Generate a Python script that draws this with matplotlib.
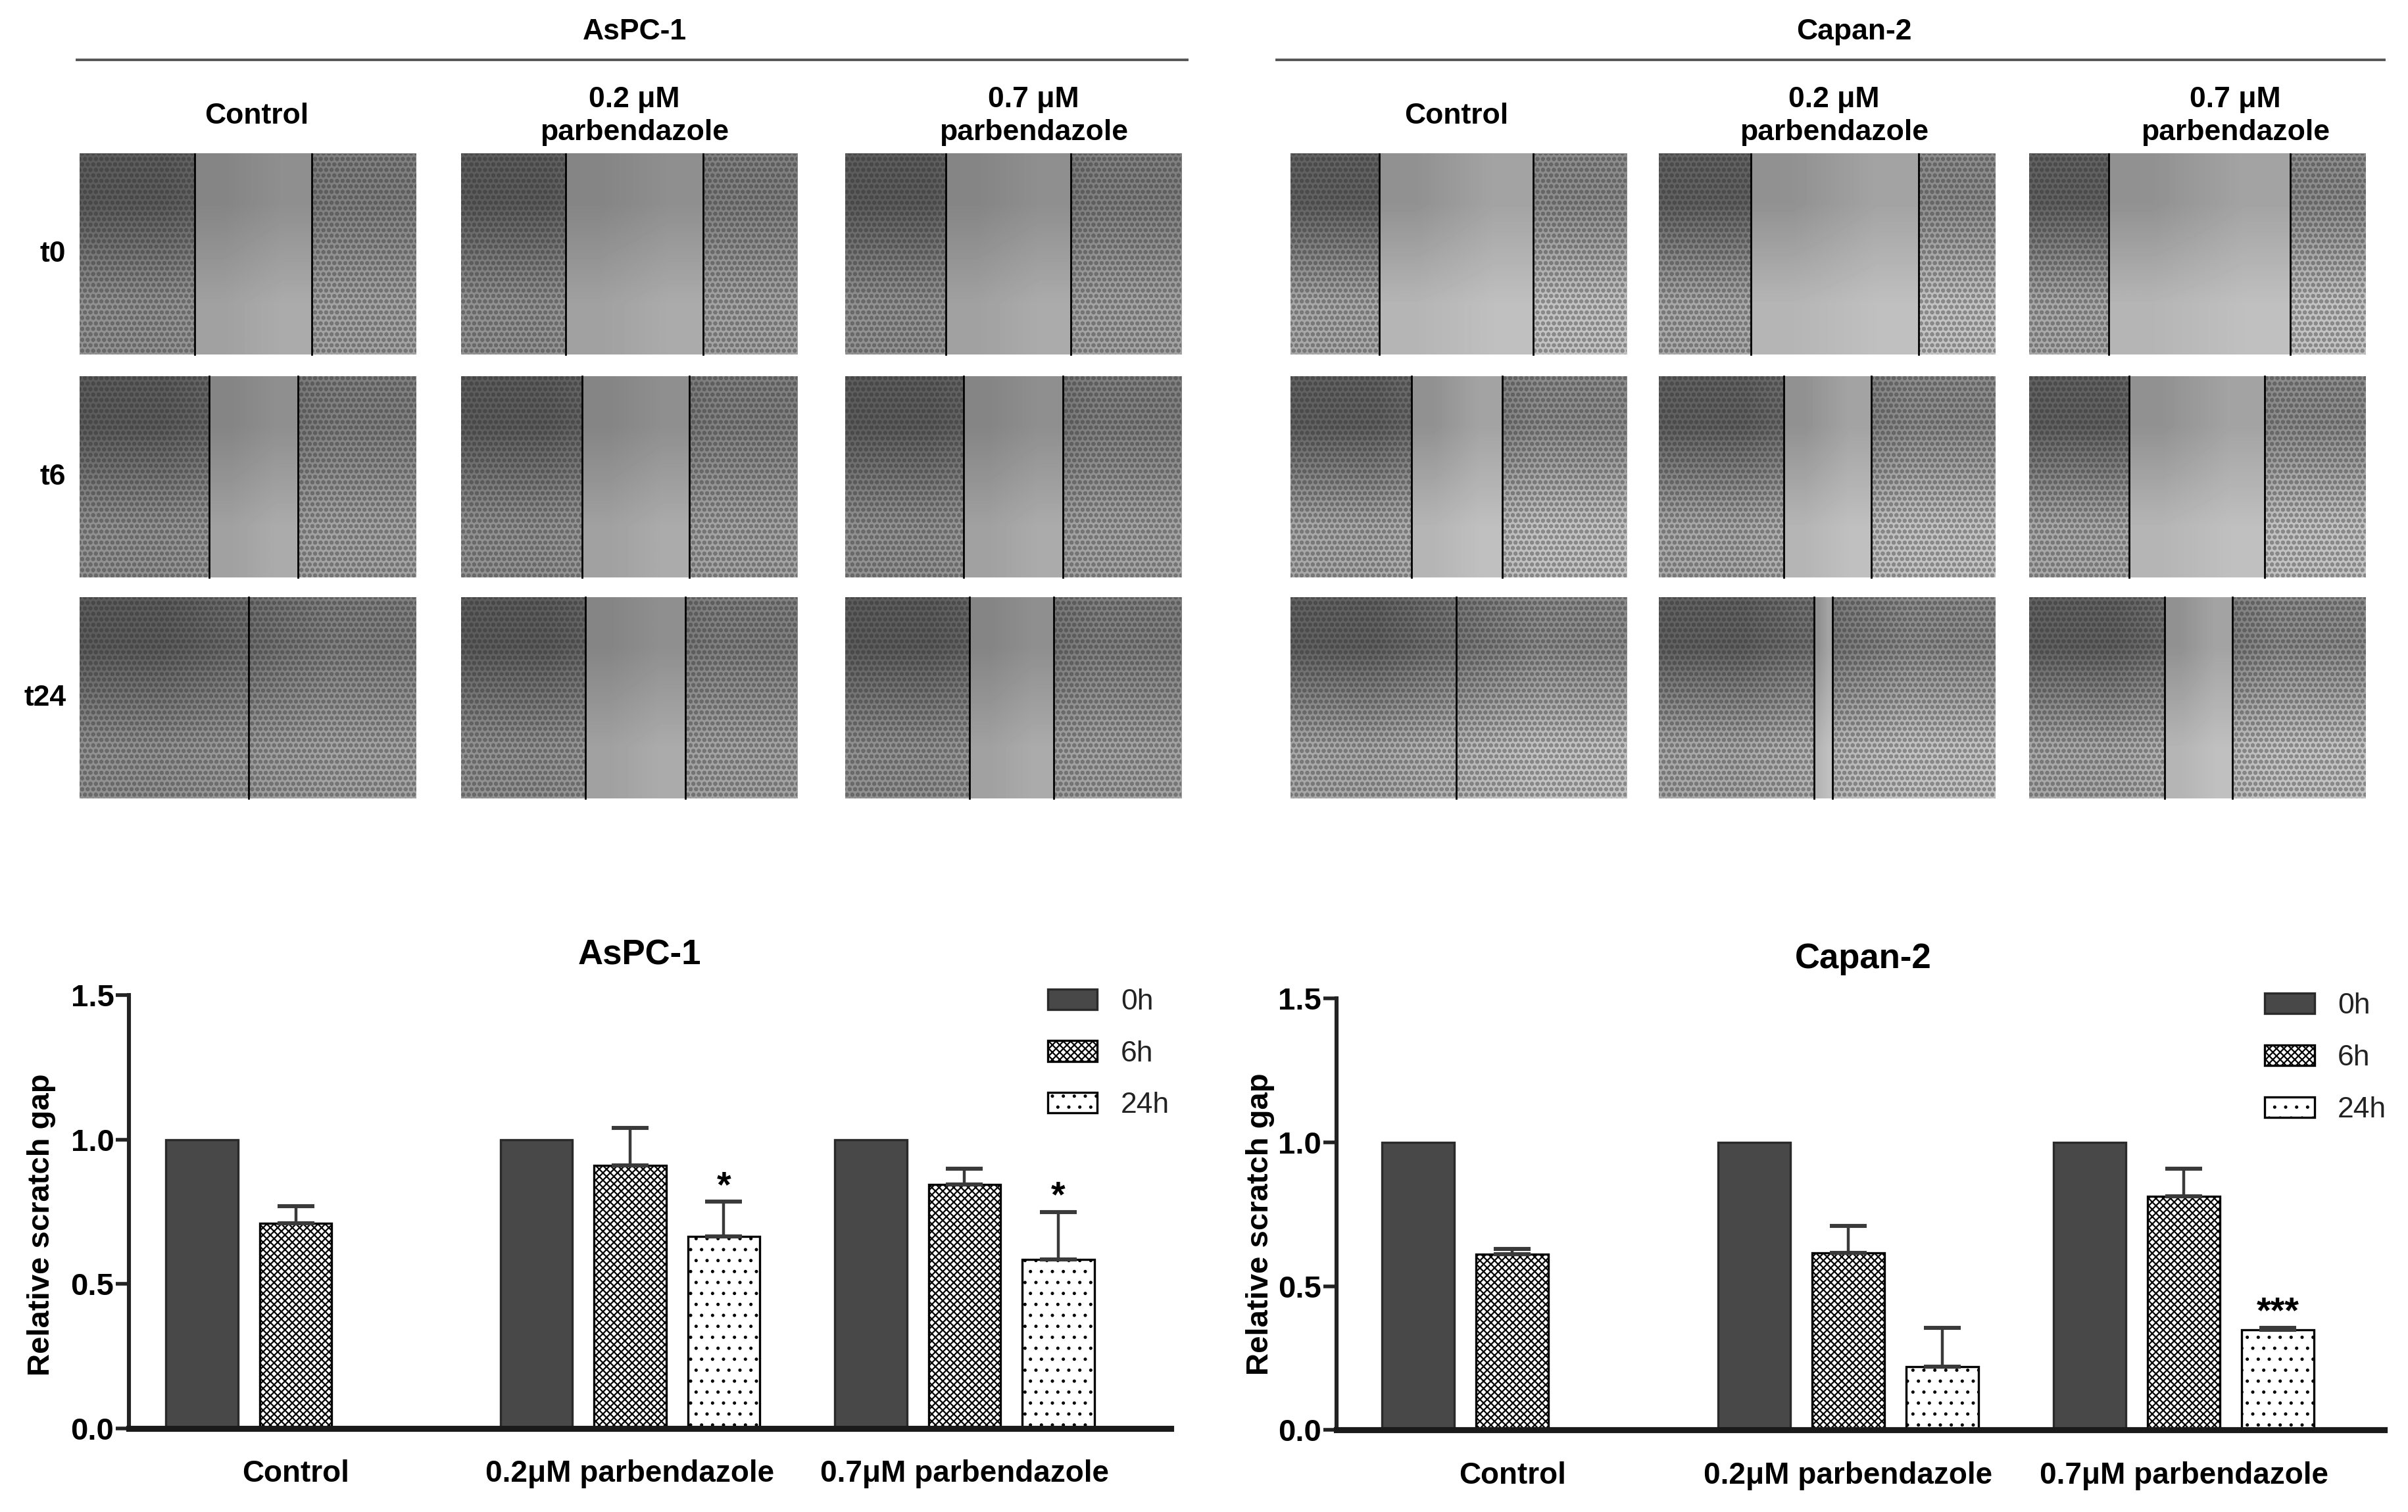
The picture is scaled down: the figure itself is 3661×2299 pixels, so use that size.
import numpy as np
import matplotlib.pyplot as plt
from matplotlib.patches import Rectangle

plt.rcParams['font.family'] = ['Liberation Sans', 'DejaVu Sans']
plt.rcParams['hatch.linewidth'] = 1.0

# ---- bar chart data (relative scratch gap, mean and upper SD) ----
groups = ['Control', '0.2\u03bcM parbendazole', '0.7\u03bcM parbendazole']
times = ['0h', '6h', '24h']

aspc_0h = [1.0, 1.0, 1.0]
aspc_6h = [0.71, 0.91, 0.845]
aspc_6h_err = [0.06, 0.13, 0.055]
aspc_24h = [np.nan, 0.665, 0.585]
aspc_24h_err = [np.nan, 0.12, 0.165]
aspc_stars = ['', '*', '*']

capan_0h = [1.0, 1.0, 1.0]
capan_6h = [0.61, 0.615, 0.813]
capan_6h_err = [0.019, 0.094, 0.094]
capan_24h = [np.nan, 0.221, 0.349]
capan_24h_err = [np.nan, 0.135, 0.007]
capan_stars = ['', '', '***']

# ---- micrograph panels: scratch edges as fraction of image width ----
col_titles = ['Control', '0.2 \u03bcM\nparbendazole', '0.7 \u03bcM\nparbendazole']
row_titles = ['t0', 't6', 't24']
aspc_edges = [
    [(0.342, 0.689), (0.311, 0.721), (0.301, 0.671)],
    [(0.384, 0.648), (0.361, 0.680), (0.352, 0.648)],
    [(0.502,), (0.370, 0.667), (0.370, 0.621)],
]
capan_edges = [
    [(0.265, 0.721), (0.274, 0.772), (0.237, 0.776)],
    [(0.361, 0.630), (0.370, 0.630), (0.297, 0.699)],
    [(0.493,), (0.461, 0.516), (0.402, 0.603)],
]

W, H = 1568, 984.4
fig = plt.figure(figsize=(18.31, 11.495), dpi=200)

# ---------------- top: micrograph grid ----------------
ax_top = fig.add_axes([0, 0, 1, 1])
ax_top.set_axis_off()

pw, ph = 219, 131
row_tops = [100, 245, 389]


def draw_panel(x0, y0, edges, cell_shade, gap_shade):
    ax_top.imshow(np.array(cell_shade), cmap='gray', vmin=0, vmax=1,
                  extent=(x0, x0 + pw, y0 + ph, y0), interpolation='bilinear',
                  aspect='auto', zorder=1)
    xs = [x0 + f * pw for f in edges]
    if len(xs) == 2:
        ax_top.imshow(np.array(gap_shade), cmap='gray', vmin=0, vmax=1,
                      extent=(xs[0], xs[1], y0 + ph, y0), interpolation='bilinear',
                      aspect='auto', zorder=2)
        parts = [(x0, xs[0]), (xs[1], x0 + pw)]
    else:
        parts = [(x0, x0 + pw)]
    for a, b in parts:
        ax_top.add_patch(Rectangle((a, y0), b - a, ph, fill=False, lw=0,
                                   hatch='oooo', edgecolor=(0.15, 0.15, 0.15, 0.35),
                                   zorder=3))
    for x in xs:
        ax_top.plot([x, x], [y0, y0 + ph], color='black', lw=1.0, zorder=4)


def draw_block(title, title_x, line_x, col_lefts, col_label_x, edges, cell_shade, gap_shade):
    ax_top.text(title_x, 20.6, title, ha='center', va='center', fontsize=16, fontweight='bold')
    ax_top.plot(line_x, [38.8, 38.8], color='#555555', lw=1.4)
    for cx, lab in zip(col_label_x, col_titles):
        ax_top.text(cx, 75.5, lab, ha='center', va='center', fontsize=16,
                    fontweight='bold', linespacing=1.3)
    for r, top in enumerate(row_tops):
        for c, left in enumerate(col_lefts):
            draw_panel(left, top, edges[r][c], cell_shade, gap_shade)


draw_block('AsPC-1', 413, [50, 773], [52, 300, 550], [167, 413, 673], aspc_edges,
           [[0.36, 0.50], [0.57, 0.64]], [[0.52, 0.56], [0.63, 0.67]])
draw_block('Capan-2', 1207, [831, 1552], [840, 1080, 1321], [948, 1194, 1455], capan_edges,
           [[0.38, 0.55], [0.66, 0.76]], [[0.57, 0.64], [0.71, 0.75]])

for lab, top in zip(row_titles, row_tops):
    ax_top.text(43, top + ph / 2, lab, ha='right', va='center', fontsize=16, fontweight='bold')

ax_top.set_xlim(0, W)
ax_top.set_ylim(H, 0)

# ---------------- bottom: bar charts ----------------
HATCH_6H, HATCH_24H = 'xxxxxx', '..'


def hatch_width(bars, lw):
    for p in bars:
        if hasattr(p, 'set_hatch_linewidth'):
            p.set_hatch_linewidth(lw)


def draw_bars(ax, v0, v6, e6, v24, e24, stars, title, title_x, xlim, legend_xy):
    x = np.arange(len(groups)) * 3.57
    w = 0.77
    b0 = ax.bar(x, v0, w, color='#484848', edgecolor='#2a2a2a', lw=1.2, label=times[0])
    b6 = ax.bar(x + 1, v6, w, color='white', edgecolor='black', hatch=HATCH_6H, lw=1.2, label=times[1])
    b24 = ax.bar(x + 2, v24, w, color='white', edgecolor='black', hatch=HATCH_24H, lw=1.2, label=times[2])
    hatch_width(b6, 0.8)
    hatch_width(b24, 0.6)
    zeros = np.zeros(len(groups))
    ax.errorbar(x + 1, v6, yerr=[zeros, e6], fmt='none', ecolor='#3a3a3a',
                elinewidth=1.6, capsize=10, capthick=2.2)
    ax.errorbar(x + 2, v24, yerr=[zeros, e24], fmt='none', ecolor='#3a3a3a',
                elinewidth=1.6, capsize=10, capthick=2.2)
    for xi, v, e, s in zip(x + 2, v24, e24, stars):
        if s:
            ax.text(xi, v + e + 0.05, s, ha='center', va='center', fontsize=20, fontweight='bold')

    ax.set_xlim(*xlim)
    ax.set_ylim(0, 1.5)
    ax.set_xticks(x + 1, groups, fontsize=16.5, fontweight='bold')
    ax.set_yticks([0, 0.5, 1.0, 1.5], ['0.0', '0.5', '1.0', '1.5'], fontsize=17, fontweight='bold')
    ax.tick_params(axis='x', length=0, pad=17)
    ax.tick_params(axis='y', length=7.2, width=2.0, pad=1, color='#222222')
    ax.spines['top'].set_visible(False)
    ax.spines['right'].set_visible(False)
    ax.spines['left'].set_linewidth(2.2)
    ax.spines['left'].set_color('#222222')
    ax.spines['bottom'].set_linewidth(3.3)
    ax.spines['bottom'].set_color('#1a1a1a')
    ax.set_ylabel('Relative scratch gap', fontsize=17, fontweight='bold', va='center')
    ax.text(title_x, 1.092, title, transform=ax.transAxes, ha='center', va='center',
            fontsize=19, fontweight='bold')
    leg = ax.legend(handles=[b0, b6, b24], loc='upper left', bbox_to_anchor=legend_xy,
                    frameon=False, fontsize=16, handlelength=1.7, handleheight=0.7,
                    handletextpad=0.8, labelspacing=0.85, borderpad=0, borderaxespad=0)
    for t in leg.get_texts():
        t.set_color('#222222')
    for p in leg.get_patches():
        if p.get_hatch() == HATCH_6H:
            hatch_width([p], 0.8)
        elif p.get_hatch() == HATCH_24H:
            hatch_width([p], 0.6)


ax1 = fig.add_axes([84 / W, 1 - 930 / H, 678 / W, 282 / H])
draw_bars(ax1, aspc_0h, aspc_6h, aspc_6h_err, aspc_24h, aspc_24h_err, aspc_stars,
          'AsPC-1', 0.49, (-0.78, 10.34), (0.882, 1.016))
ax1.yaxis.set_label_coords(-0.084, 0.47)

ax2 = fig.add_axes([870 / W, 1 - 931 / H, 682 / W, 281 / H])
draw_bars(ax2, capan_0h, capan_6h, capan_6h_err, capan_24h, capan_24h_err, capan_stars,
          'Capan-2', 0.503, (-0.87, 10.27), (0.886, 1.013))
ax2.yaxis.set_label_coords(-0.073, 0.477)

fig.savefig('out.png', dpi=200)
